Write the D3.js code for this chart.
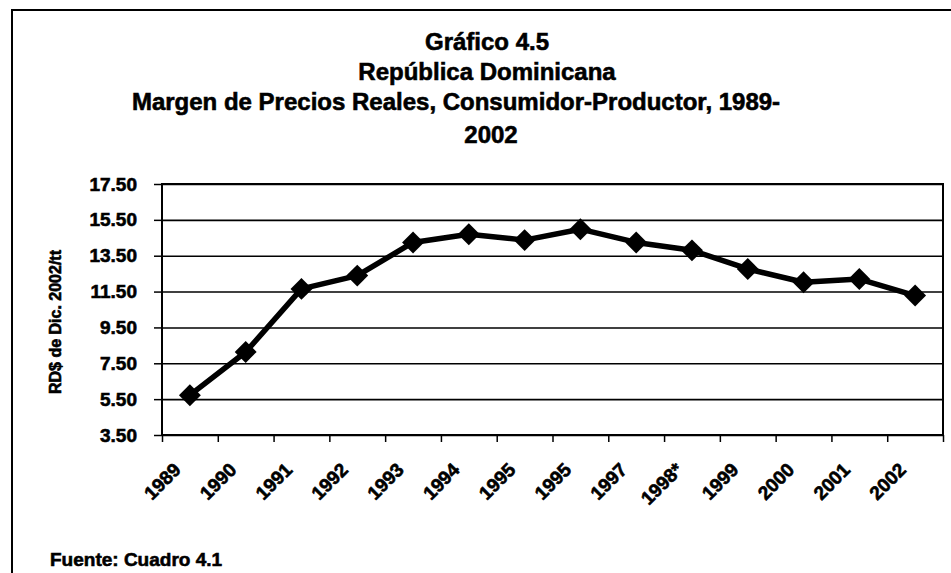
<!DOCTYPE html>
<html>
<head>
<meta charset="utf-8">
<script src="https://cdn.jsdelivr.net/npm/d3@7"></script>
<style>
  body { margin: 0; background: #fff; }
  svg { display: block; font-family: "Liberation Sans", Arial, sans-serif; }
  svg text { stroke: #000; stroke-width: 0.6px; }
</style>
</head>
<body>
<svg id="chart" width="951" height="573"></svg>
<script>
// data
const years = ['1989', '1990', '1991', '1992', '1993', '1994', '1995', '1995', '1997', '1998*', '1999', '2000', '2001', '2002'];
const margen = [5.72, 8.13, 11.65, 12.39, 14.24, 14.70, 14.37, 14.98, 14.24, 13.80, 12.76, 12.02, 12.20, 11.28];
const yTicks = [3.5, 5.5, 7.5, 9.5, 11.5, 13.5, 15.5, 17.5];
const titleLines = ['Gráfico 4.5', 'República Dominicana', 'Margen de Precios Reales, Consumidor-Productor, 1989-', '2002'];

const svg = d3.select('#chart');
const plotLeft = 162, plotRight = 943, plotTop = 184, plotBottom = 435;

// outer frame (only left and top edges are visible)
svg.append('rect')
  .attr('x', 12).attr('y', 10)
  .attr('width', 1000).attr('height', 700)
  .style('fill', 'none')
  .style('stroke', '#000')
  .style('stroke-width', 2);

// titles
svg.selectAll('text.title')
  .data(titleLines)
  .join('text')
  .attr('class', 'title')
  .attr('x', (d, i) => [487, 487, 456, 491][i])
  .attr('y', (d, i) => [50, 80, 110, 143][i])
  .attr('text-anchor', 'middle')
  .style('font-size', '24px')
  .style('font-weight', 'bold')
  .text(d => d);

const x = d3.scaleLinear().domain([0, years.length]).range([plotLeft, plotRight]);
const y = d3.scaleLinear().domain([3.5, 17.5]).range([plotBottom, plotTop]);

// gridlines
svg.append('g')
  .attr('transform', `translate(${plotLeft},0)`)
  .call(d3.axisLeft(y).tickValues(yTicks).tickSize(-(plotRight - plotLeft)).tickFormat(''))
  .call(g => g.select('.domain').remove())
  .selectAll('line')
  .style('stroke', '#000')
  .style('stroke-width', 1.6);

// plot box
svg.append('rect')
  .attr('x', plotLeft).attr('y', plotTop)
  .attr('width', plotRight - plotLeft).attr('height', plotBottom - plotTop)
  .style('fill', 'none')
  .style('stroke', '#000')
  .style('stroke-width', 2);

// y axis
const yAxis = svg.append('g')
  .attr('transform', `translate(${plotLeft},0)`)
  .call(d3.axisLeft(y).tickValues(yTicks).tickSize(8).tickPadding(17).tickFormat(d3.format('.2f')));
yAxis.select('.domain').remove();
yAxis.attr('font-family', null);
yAxis.selectAll('line').style('stroke', '#000').style('stroke-width', 1.5);
yAxis.selectAll('text')
  .style('font-size', '19px')
  .style('font-weight', 'bold')
  .style('fill', '#000');

// x axis ticks at category boundaries
const xAxis = svg.append('g')
  .attr('transform', `translate(0,${plotBottom})`)
  .call(d3.axisBottom(x).tickValues(d3.range(years.length + 1)).tickSize(7).tickFormat(''));
xAxis.select('.domain').remove();
xAxis.selectAll('line').style('stroke', '#000').style('stroke-width', 1.5);

// rotated category labels
svg.selectAll('text.xlab')
  .data(years)
  .join('text')
  .attr('class', 'xlab')
  .attr('text-anchor', 'end')
  .attr('transform', (d, i) => `translate(${x(i + 0.5) - 8},${plotBottom + 36}) rotate(-45)`)
  .style('font-size', '19px')
  .style('font-weight', 'bold')
  .text(d => d);

// y axis title
svg.append('text')
  .attr('transform', 'translate(61,322) rotate(-90)')
  .attr('text-anchor', 'middle')
  .style('font-size', '16px')
  .style('font-weight', 'bold')
  .text('RD$ de Dic. 2002/tt');

// line
const line = d3.line()
  .x((d, i) => x(i + 0.5))
  .y(d => y(d));

svg.append('path')
  .datum(margen)
  .attr('d', line)
  .style('fill', 'none')
  .style('stroke', '#000')
  .style('stroke-width', 5.5)
  .style('stroke-linejoin', 'round');

// diamond markers
svg.selectAll('path.marker')
  .data(margen)
  .join('path')
  .attr('class', 'marker')
  .attr('d', d3.symbol().type(d3.symbolSquare).size(240))
  .attr('transform', (d, i) => `translate(${x(i + 0.5)},${y(d)}) rotate(45)`)
  .style('fill', '#000');

// source note
svg.append('text')
  .attr('x', 50)
  .attr('y', 566)
  .style('font-size', '19px')
  .style('font-weight', 'bold')
  .text('Fuente: Cuadro 4.1');
</script>
</body>
</html>
